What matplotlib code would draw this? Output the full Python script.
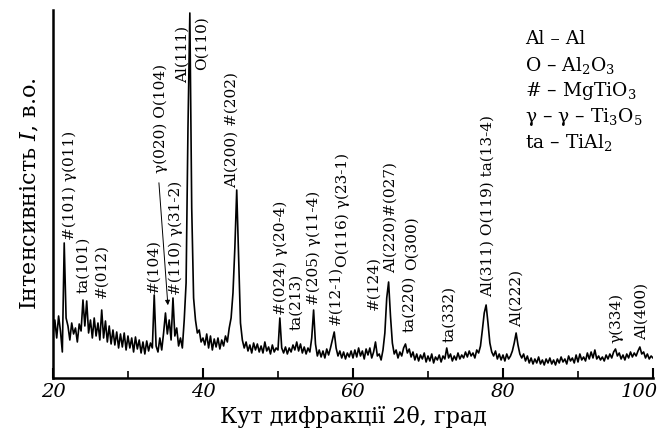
import numpy as np
import matplotlib
matplotlib.use("Agg")
import matplotlib.pyplot as plt
import matplotlib.transforms as mtransforms

plt.rcParams['font.family'] = ['DejaVu Serif']
plt.rcParams['mathtext.fontset'] = 'dejavuserif'

# diffraction angle grid, 0.25 deg step
two_theta = np.arange(0, 321) * 0.25 + 20.0

intensity = [
    44, 58, 40, 62, 47, 26, 135, 60,        # 20-22
    52, 38, 55, 44, 50, 36, 54, 47,         # 22-24
    78, 52, 77, 45, 58, 40, 60, 42,         # 24-26
    55, 38, 68, 40, 57, 36, 52, 34,         # 26-28
    48, 33, 46, 30, 44, 31, 45, 28,         # 28-30
    42, 30, 40, 26, 41, 29, 38, 25,         # 30-32
    36, 24, 37, 27, 35, 30, 83, 32,         # 32-34
    26, 40, 28, 45, 65, 44, 58, 38,         # 34-36
    80, 42, 50, 32, 40, 30, 58, 95,         # 36-38
    250, 365, 170, 80, 58, 45, 48, 36,      # 38-40
    40, 33, 44, 30, 42, 28, 39, 31,         # 40-42
    40, 29, 38, 32, 42, 36, 50, 60,         # 42-44
    85, 130, 188, 120, 55, 38, 30, 36,      # 44-46
    27, 33, 25, 35, 28, 34, 26, 32,         # 46-48
    25, 36, 27, 31, 24, 33, 26, 30,         # 48-50
    28, 60, 30, 25, 31, 24, 30, 26,         # 50-52
    33, 28, 36, 27, 34, 25, 31, 24,         # 52-54
    30, 26, 40, 68, 34, 22, 28, 21,         # 54-56
    27, 20, 29, 23, 30, 38, 46, 30,         # 56-58
    22, 27, 20, 26, 19, 25, 21, 27,         # 58-60
    20, 28, 21, 30, 22, 27, 19, 29,         # 60-62
    23, 30, 20, 26, 36, 22, 24, 18,         # 62-64
    28, 45, 80, 96, 62, 35, 24, 28,         # 64-66
    20, 26, 22, 30, 34, 25, 29, 21,         # 66-68
    26, 18, 24, 17, 23, 19, 25, 16,         # 68-70
    22, 17, 24, 15, 21, 18, 23, 16,         # 70-72
    22, 19, 30, 20, 24, 17, 22, 18,         # 72-74
    25, 19, 23, 20, 26, 21, 27, 22,         # 74-76
    25, 20, 28, 25, 32, 48, 65, 73,         # 76-78
    55, 35, 26, 22, 27, 19, 24, 18,         # 78-80
    23, 17, 24, 19, 22, 27, 35, 45,         # 80-82
    33, 24, 20, 24, 17, 22, 15, 20,         # 82-84
    14, 19, 15, 21, 14, 18, 13, 19,         # 84-86
    15, 20, 14, 18, 13, 19, 15, 21,         # 86-88
    16, 19, 14, 22, 17, 20, 15, 23,         # 88-90
    16, 24, 18, 21, 17, 25, 19, 26,         # 90-92
    20, 28, 19, 22, 18, 21, 17, 23,         # 92-94
    19, 24, 20, 26, 29, 22, 25, 19,         # 94-96
    23, 18, 24, 20, 26, 21, 25, 22,         # 96-98
    27, 31, 24, 26, 20, 24, 19, 22,         # 98-100
    20,
]

# peak labels: text, x position (deg), bottom of text (intensity)
labels = [
    ("#(101) γ(011)", 22.3, 138),
    ("ta(101)", 24.05, 85),
    ("#(012)", 26.5, 80),
    ("#(104)", 33.35, 85),
    ("γ(020) O(104)", 34.35, 205),
    ("#(110) γ(31-2)", 36.4, 83),
    ("Al(111)", 37.3, 295),
    ("O(110)", 39.9, 308),
    ("Al(200) #(202)", 43.9, 190),
    ("#(024) γ(20-4)", 50.4, 63),
    ("ta(213)", 52.5, 48),
    ("#(205) γ(11-4)", 54.8, 73),
    ("#(12-1)", 57.7, 53),
    ("O(116) γ(23-1)", 58.7, 111),
    ("#(124)", 62.8, 68),
    ("Al(220)#(027)", 65.1, 105),
    ("ta(220)", 67.5, 46),
    ("O(300)", 67.9, 108),
    ("ta(332)", 72.8, 36),
    ("Al(311) O(119) ta(13-4)", 77.95, 81),
    ("Al(222)", 81.9, 51),
    ("γ(334)", 95.1, 35),
    ("Al(400)", 98.55, 38),
]

phases = ["Al – Al", "O – Al$_2$O$_3$", "# – MgTiO$_3$",
          "γ – γ – Ti$_3$O$_5$", "ta – TiAl$_2$"]

fig = plt.figure(figsize=(6.62, 4.45), dpi=100)
ax = fig.add_axes([0.080, 0.1506, 0.9064, 0.8269])

ax.plot(two_theta, intensity, color='black', lw=1.2)

for txt, xp, yb in labels:
    ax.text(xp, yb, txt, rotation=90, ha='center', va='bottom', fontsize=11)

# arrow from the gamma(020) label down to its peak
ax.annotate("", xy=(35.35, 70), xytext=(34.1, 198),
            arrowprops=dict(arrowstyle='-|>', lw=0.7, color='black',
                            mutation_scale=7))

for k, ph in enumerate(phases):
    ax.text(0.7866, 0.9208 - k * 0.0705, ph, transform=ax.transAxes,
            fontsize=13.5, va='center', ha='left')

ax.set_xlim(20, 100)
ax.set_ylim(0, 368)
ax.set_xticks([20, 40, 60, 80, 100])
ax.set_xticks([30, 50, 70, 90], minor=True)
ax.set_xticklabels(['20', '40', '60', '80', '100'], fontstyle='italic',
                   fontsize=14)
ax.tick_params(axis='x', which='major', direction='in', length=7, width=1.5)
ax.tick_params(axis='x', which='minor', direction='in', length=5, width=1.2)
ax.set_yticks([])
for s in ['top', 'right']:
    ax.spines[s].set_visible(False)
for s in ['left', 'bottom']:
    ax.spines[s].set_linewidth(1.8)

# last tick label sits a bit to the left so it stays inside the figure
last = ax.get_xticklabels()[-1]
last.set_transform(last.get_transform() +
                   mtransforms.ScaledTranslation(-0.14, 0, fig.dpi_scale_trans))

ax.set_xlabel("Кут дифракції 2θ, град", fontsize=16, labelpad=4)
ax.set_ylabel("Інтенсивність $I$, в.о.", fontsize=16, labelpad=8)

fig.savefig("out.png", dpi=100)
